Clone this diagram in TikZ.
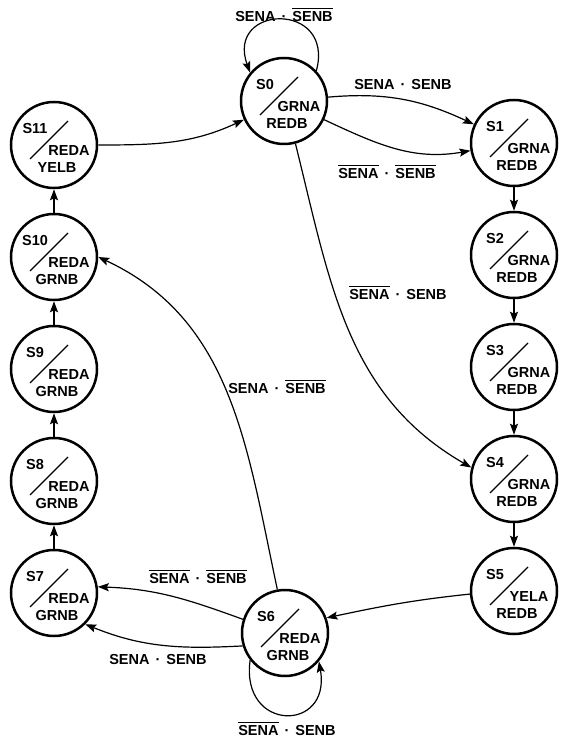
\documentclass[tikz,border=0pt]{standalone}
\usepackage{fontspec}
\setmainfont{Liberation Sans}
\usepackage{tikz}
\usetikzlibrary{calc,arrows.meta}
\newcommand{\nbar}[1]{\leavevmode\vbox{\hrule height 1.3pt\kern 2.3pt\hbox{#1}}}
\newcommand{\andop}{\hspace{6pt}·\hspace{6pt}}
\tikzset{
  ar/.style={-{Stealth[length=11pt,width=8pt,inset=2pt]},line width=1.2pt},
  st/.style={circle,draw,line width=2.5pt,minimum size=86pt,inner sep=0pt},
  tx/.style={inner sep=0pt}
}

\begin{document}
\begin{tikzpicture}[x=1pt,y=1pt,font=\fontsize{14.5}{16}\selectfont\bfseries]
\useasboundingbox (0,0) rectangle (566,739);
% states
\foreach \n/\x/\y/\a/\b in {0/284/638/GRNA/REDB,1/514/596/GRNA/REDB,2/514/484/GRNA/REDB,
  3/514/372/GRNA/REDB,4/514/260/GRNA/REDB,5/514/148/YELA/REDB,6/285/106/REDA/GRNB,
  7/54/146/REDA/GRNB,8/54/258/REDA/GRNB,9/54/370/REDA/GRNB,10/54/482/REDA/GRNB,11/54/594/REDA/YELB}{
 \node[st] (S\n) at (\x,\y) {};
 \node[tx] (S\n-id) at ($(S\n)+(-19,16)$) {S\n};
 \node[tx] (S\n-o1) at ($(S\n)+(15,-6)$) {\a};
 \node[tx] (S\n-o2) at ($(S\n)+(3,-23)$) {\b};
 \draw[line width=1.2pt] ($(S\n)+(-24,-14)$) -- ++(38,38);}
% transitions
\draw[ar] (S0.43) to[out=75,in=110,looseness=2.8] (S0.140);
\draw[ar] (S0.5) to[out=5,in=155] (S1.155);
\draw[ar] (S0.-25) to[out=-25,in=190] (S1.190);
\draw[ar] (S0.-75) to[out=-76,in=150] (S4.165);
\foreach \a/\b in {1/2,2/3,3/4,4/5}{\draw[ar] (S\a.south) -- (S\b.north);}
\draw[ar] (S5.184) to[out=186,in=12] (S6.20);
\draw[ar] (S6.218) to[out=262,in=-80,looseness=2.7] (S6.-40);
\draw[ar] (S6.162) to[out=160,in=-2] (S7.8);
\draw[ar] (S6.197) to[out=183,in=-22] (S7.-45);
\draw[ar] (S6.100) to[out=102,in=-25] (S10.east);
\foreach \a/\b in {7/8,8/9,9/10,10/11}{\draw[ar] (S\a.north) -- (S\b.south);}
\draw[ar] (S11.east) to[out=0,in=205] (S0.205);
% conditions
\node[tx] (c0) at (284,724) {SENA\andop\nbar{SENB}};
\node[tx] (c1) at (403,654) {SENA\andop SENB};
\node[tx] (c2) at (387,567) {\nbar{SENA}\andop\nbar{SENB}};
\node[tx] (c3) at (398,446) {\nbar{SENA}\andop SENB};
\node[tx] (c4) at (277,352) {SENA\andop\nbar{SENB}};
\node[tx] (c5) at (198,162) {\nbar{SENA}\andop\nbar{SENB}};
\node[tx] (c6) at (158,79) {SENA\andop SENB};
\node[tx] (c7) at (287,10) {\nbar{SENA}\andop SENB};
\end{tikzpicture}
\end{document}
